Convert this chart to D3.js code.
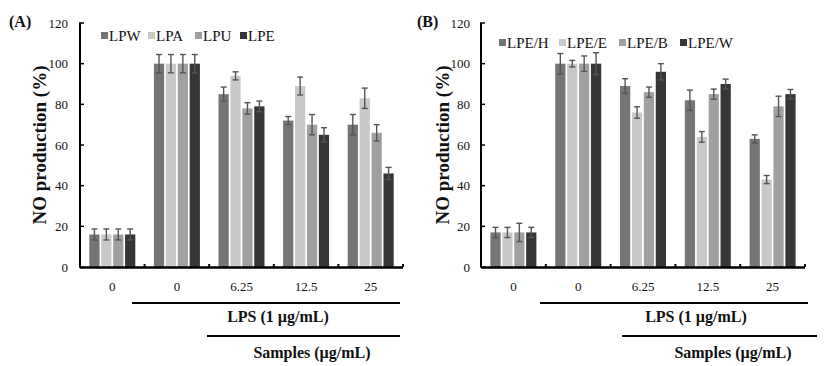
<!DOCTYPE html>
<html><head><meta charset="utf-8">
<script src="https://cdn.jsdelivr.net/npm/d3@7"></script>
<style>
body{margin:0;background:#fff;}
svg text{font-family:"Liberation Serif","Times New Roman",serif;fill:#111;}
</style></head>
<body><svg id="c" width="827" height="366"></svg>
<script>
const groupLabels = ["0","0","6.25","12.5","25"];
const yTicks = [0,20,40,60,80,100,120];
const seriesA = ["LPW","LPA","LPU","LPE"];
const valuesA = [
  [16,100,85,72,70],
  [16,100,94,89,83],
  [16,100,78,70,66],
  [16,100,79,65,46]
];
const errorsA = [
  [2.7,4.5,3.5,2,5],
  [2.7,4.5,2,4.4,5],
  [2.7,4.5,2.8,5,4],
  [2.7,4.5,2.6,3.5,3]
];
const seriesB = ["LPE/H","LPE/E","LPE/B","LPE/W"];
const valuesB = [
  [17,100,89,82,63],
  [17,100,76,64,43],
  [17,100,86,85,79],
  [17,100,96,90,85]
];
const errorsB = [
  [2.5,5,3.6,5,2],
  [2.5,1.6,2.8,2.6,2],
  [4.5,3.8,2.5,2.5,5],
  [2.5,5.4,4,2.4,2.3]
];
const colors = ["#757575","#c9c9c9","#a0a0a0","#363636"];

const svg = d3.select("#c");

function panel(opt){
  const g = svg.append("g");
  const y = d3.scaleLinear().domain([0,120]).range([267,23]);
  const x = d3.scaleBand().domain(d3.range(groupLabels.length)).range([opt.x0,opt.x1]).padding(0);
  const gw = x.bandwidth();
  const xi = d3.scaleBand().domain(opt.series).range([gw/2-23, gw/2+23]).paddingInner(0.14);

  // bars
  opt.series.forEach((s,si)=>{
    const sg = g.append("g");
    sg.selectAll("rect").data(opt.values[si]).join("rect")
      .attr("x",(d,i)=>x(i)+xi(s))
      .attr("width",xi.bandwidth())
      .attr("y",d=>y(d))
      .attr("height",d=>y(0)-y(d))
      .attr("fill",colors[si]);
    const eg = g.append("g").attr("stroke","#555").attr("stroke-width",1.4);
    opt.values[si].forEach((v,i)=>{
      const e = opt.errors[si][i];
      const cx = x(i)+xi(s)+xi.bandwidth()/2;
      eg.append("line").attr("x1",cx).attr("x2",cx).attr("y1",y(v+e)).attr("y2",y(v-e));
      eg.append("line").attr("x1",cx-3).attr("x2",cx+3).attr("y1",y(v+e)).attr("y2",y(v+e));
      eg.append("line").attr("x1",cx-3).attr("x2",cx+3).attr("y1",y(v-e)).attr("y2",y(v-e));
    });
  });

  // y axis
  const ya = d3.axisLeft(y).tickValues(yTicks).tickSize(0).tickPadding(opt.x0 - opt.labR);
  const yg = g.append("g").attr("transform",`translate(${opt.x0},0)`).call(ya);
  yg.select(".domain").remove();
  yg.selectAll("text").attr("font-size",13).style("font-family","Liberation Serif, serif").attr("fill","#111");
  g.append("line").attr("x1",opt.x0).attr("x2",opt.x0).attr("y1",y(120)).attr("y2",y(0)).attr("stroke","#000").attr("stroke-width",2);
  g.selectAll(".yt").data(yTicks).join("line").attr("class","yt")
    .attr("x1",opt.x0-1).attr("x2",opt.x0+4).attr("y1",d=>y(d)).attr("y2",d=>y(d))
    .attr("stroke","#000").attr("stroke-width",1.5);

  // x axis
  g.append("line").attr("x1",opt.x0).attr("x2",opt.x1).attr("y1",y(0)+0.5).attr("y2",y(0)+0.5).attr("stroke","#000").attr("stroke-width",2.5);
  const bounds = d3.range(1,groupLabels.length).map(i=>x(i)).concat([opt.x1]);
  g.selectAll(".xt").data(bounds).join("line").attr("class","xt")
    .attr("x1",d=>d).attr("x2",d=>d).attr("y1",y(0)-3).attr("y2",y(0)).attr("stroke","#000").attr("stroke-width",2);
  g.selectAll(".xl").data(groupLabels).join("text").attr("class","xl")
    .attr("x",(d,i)=>x(i)+gw/2).attr("y",291).attr("text-anchor","middle").attr("font-size",13).text(d=>d);

  // y title
  g.append("text").attr("transform",`translate(${opt.titleX},145) rotate(-90)`)
    .attr("text-anchor","middle").attr("font-size",19).attr("font-weight","bold").text("NO production (%)");
  // panel label
  g.append("text").attr("x",opt.panelX).attr("y",27).attr("font-size",16).attr("font-weight","bold").text(opt.panel);

  // legend
  opt.series.forEach((s,si)=>{
    g.append("rect").attr("x",opt.legX[si]).attr("y",opt.legY-4).attr("width",7).attr("height",7).attr("fill",colors[si]);
    g.append("text").attr("x",opt.legX[si]+8).attr("y",opt.legY+4.5).attr("font-size",15).text(s);
  });

  // bottom labels
  g.append("line").attr("x1",opt.l1[0]).attr("x2",opt.l1[1]).attr("y1",303).attr("y2",303).attr("stroke","#000").attr("stroke-width",2);
  g.append("text").attr("x",opt.lpsX).attr("y",322).attr("text-anchor","middle").attr("font-size",16).attr("font-weight","bold").text("LPS (1 µg/mL)");
  g.append("line").attr("x1",opt.l2[0]).attr("x2",opt.l2[1]).attr("y1",336).attr("y2",336).attr("stroke","#000").attr("stroke-width",2);
  g.append("text").attr("x",opt.smpX).attr("y",358).attr("text-anchor","middle").attr("font-size",16).attr("font-weight","bold").text("Samples (µg/mL)");
}

panel({x0:80,x1:403,labR:68,series:seriesA,values:valuesA,errors:errorsA,titleX:46,panelX:9,panel:"(A)",
  legX:[101,148,195,240],legY:36,l1:[132,400],l2:[207,400],lpsX:278,smpX:312});
panel({x0:481,x1:805,labR:470,series:seriesB,values:valuesB,errors:errorsB,titleX:449,panelX:417,panel:"(B)",
  legX:[499,559,619,680],legY:43,l1:[540,808],l2:[622,817],lpsX:696,smpX:733});
</script></body></html>
